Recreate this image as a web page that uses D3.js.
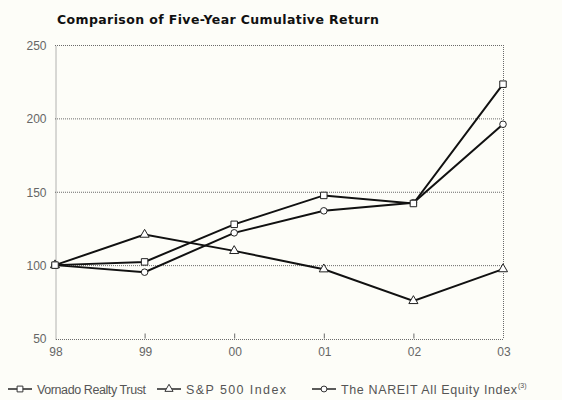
<!DOCTYPE html>
<html>
<head>
<meta charset="utf-8">
<script src="https://cdn.jsdelivr.net/npm/d3@7"></script>
<style>
  html, body { margin: 0; padding: 0; background: #fdfdf8; }
  svg { display: block; }
</style>
</head>
<body>
<svg id="chart" width="562" height="400"></svg>
<script>
const years = ["98", "99", "00", "01", "02", "03"];
const vornado = [100, 102.2, 127.8, 147.5, 142, 223.3];
const sp500 = [100, 120.8, 109.7, 97.2, 75.6, 97.3];
const nareit = [100, 95.2, 122, 137, 142.5, 196];
const yTickValues = [50, 100, 150, 200, 250];
const yTickLabels = ["50", "100", "150", "200", "250"];
const seriesNames = ["Vornado Realty Trust", "S&P 500 Index", "The NAREIT All Equity Index"];
const title = "Comparison of Five-Year Cumulative Return";

const svg = d3.select("#chart");
const plotLeft = 55, plotRight = 503, plotTop = 45, plotBottom = 338.5;

const x = d3.scalePoint().domain(years).range([plotLeft, plotRight]);
const y = d3.scaleLinear().domain([50, 250]).range([plotBottom, plotTop]);

const font = "'Liberation Sans', Arial, sans-serif";
const gridColor = "#6a6a6a";

// title
svg.append("text")
  .attr("x", 57).attr("y", 24)
  .attr("font-family", "'DejaVu Sans', sans-serif").attr("font-weight", "bold")
  .attr("font-size", 12.5).attr("fill", "#111")
  .attr("textLength", 322).attr("lengthAdjust", "spacing")
  .text(title);

// horizontal gridlines
svg.append("g").selectAll("line").data(yTickValues.slice(1)).join("line")
  .attr("x1", plotLeft).attr("x2", plotRight)
  .attr("y1", d => y(d) + 0.5).attr("y2", d => y(d) + 0.5)
  .attr("stroke", gridColor).attr("stroke-width", 1)
  .attr("stroke-dasharray", "1,1");

// right vertical line
svg.append("line")
  .attr("x1", plotRight + 0.5).attr("x2", plotRight + 0.5)
  .attr("y1", plotTop).attr("y2", plotBottom)
  .attr("stroke", gridColor).attr("stroke-dasharray", "1,1");

// y axis
const yAxis = d3.axisLeft(y).tickValues(yTickValues)
  .tickFormat((d, i) => yTickLabels[i]).tickSize(0).tickPadding(9);
const gy = svg.append("g").attr("transform", `translate(${plotLeft + 0.5},0.5)`).call(yAxis);
gy.select(".domain").attr("stroke", gridColor).attr("stroke-dasharray", "1,1");
gy.selectAll("text").attr("font-family", font).attr("font-size", 12).attr("fill", "#666");

// x axis
const xAxis = d3.axisBottom(x).tickSize(0).tickPadding(8);
const gx = svg.append("g").attr("transform", `translate(0.5,${plotBottom + 0.5})`).call(xAxis);
gx.select(".domain").attr("stroke", gridColor).attr("stroke-dasharray", "1,1");
gx.selectAll("text").attr("font-family", font).attr("font-size", 12).attr("fill", "#666");
// inner tick marks
svg.append("g").selectAll("line").data(years.slice(1, -1)).join("line")
  .attr("x1", d => x(d) + 0.5).attr("x2", d => x(d) + 0.5)
  .attr("y1", plotBottom).attr("y2", plotBottom - 5)
  .attr("stroke", gridColor);

const series = [
  { name: seriesNames[0], values: vornado, shape: "square" },
  { name: seriesNames[1], values: sp500, shape: "triangle" },
  { name: seriesNames[2], values: nareit, shape: "circle" }
];

const line = d3.line().x((d, i) => x(years[i])).y(d => y(d));

const symbolFor = s => s === "square" ? d3.symbolSquare : s === "triangle" ? d3.symbolTriangle : d3.symbolCircle;
const sizeFor = s => s === "square" ? 42 : s === "triangle" ? 36 : 34;

series.forEach(s => {
  svg.append("path").datum(s.values)
    .attr("d", line).attr("fill", "none")
    .attr("stroke", "#111").attr("stroke-width", 2);
});
series.slice().reverse().forEach(s => {
  svg.append("g").selectAll("path").data(s.values).join("path")
    .attr("transform", (d, i) => `translate(${x(years[i])},${y(d)})`)
    .attr("d", d3.symbol().type(symbolFor(s.shape)).size(sizeFor(s.shape)))
    .attr("fill", "#fff").attr("stroke", "#222").attr("stroke-width", 1);
});

// legend
const legendX = [8, 157, 312];
const legendTextWidth = [109, 100, 176];
const legendY = 389;
series.forEach((s, i) => {
  const g = svg.append("g").attr("transform", `translate(${legendX[i]},${legendY})`);
  g.append("line").attr("x1", 0).attr("x2", 24).attr("y1", 0).attr("y2", 0)
    .attr("stroke", "#333").attr("stroke-width", 1.6);
  g.append("path").attr("transform", "translate(12,0)")
    .attr("d", d3.symbol().type(symbolFor(s.shape)).size(sizeFor(s.shape) * 0.8))
    .attr("fill", "#fff").attr("stroke", "#333");
  const t = g.append("text").attr("x", 29).attr("y", 4.5)
    .attr("font-family", font).attr("font-size", 12.5).attr("fill", "#555")
    .attr("textLength", legendTextWidth[i]).attr("lengthAdjust", "spacing")
    .text(s.name);
  if (i === 2) {
    g.append("text").attr("x", 29 + legendTextWidth[i] + 1).attr("y", -1)
      .attr("font-family", font).attr("font-size", 7).attr("fill", "#555")
      .text("(3)");
  }
});
</script>
</body>
</html>
